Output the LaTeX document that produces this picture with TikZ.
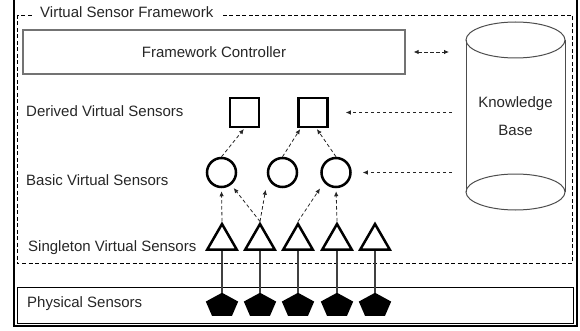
\documentclass[tikz,border=0pt]{standalone}
\usepackage{fontspec}
\setmainfont{Liberation Sans}
\usetikzlibrary{shapes.geometric,arrows.meta,calc}

\begin{document}
\begin{tikzpicture}[x=1pt,y=-1pt,
  txt/.style={font=\fontsize{15}{18}\selectfont, text=black!85, inner sep=0pt},
  layerlabel/.style={txt, anchor=base west},
  dvs/.style={draw, line width=2.5pt, fill=white, minimum size=29pt, inner sep=0pt},
  bvs/.style={circle, draw, line width=2.5pt, fill=white, minimum size=29pt, inner sep=0pt},
  svs/.style={regular polygon, regular polygon sides=3, draw, line width=2.5pt,
              fill=white, minimum size=34pt, inner sep=0pt},
  phys/.style={regular polygon, regular polygon sides=5, fill=black,
               minimum size=34pt, inner sep=0pt, outer sep=0pt, transform shape},
  conn/.style={draw=black!85, line width=0.8pt, dash pattern=on 3.5pt off 2.5pt,
               -{Latex[length=5pt,width=4.5pt]}},
  wire/.style={draw=black!75, line width=1.1pt},
  frameline/.style={draw=black, line width=0.9pt, dash pattern=on 4pt off 2.5pt},
]
\useasboundingbox (0,0) rectangle (580,331);

% outer border
\draw[line width=2pt] (14,0) -- (14,325.5) -- (577,325.5) -- (577,0);

% dashed framework boundary with its title
\draw[frameline] (17,15) rectangle (572,263.5);
\node[txt, fill=white, inner xsep=7pt, inner ysep=2pt, anchor=base west]
  (vsftitle) at (33,17.5) {Virtual Sensor Framework};

% physical sensor layer box
\node[draw, line width=0.8pt, minimum width=556pt, minimum height=36pt, inner sep=0pt,
      outer sep=0pt] (physbox) at (295,305) {};

% framework controller
\node[draw=black!55, line width=1.2pt, minimum width=382pt, minimum height=44pt,
      inner sep=0pt, txt] (fc) at (214,52) {Framework Controller};

% knowledge base (cylinder outline drawn from an invisible frame node)
\node[minimum width=99pt, minimum height=188pt, inner sep=0pt, outer sep=0pt,
      align=center, font=\fontsize{15}{28}\selectfont, text=black!85]
  (kb) at (515.5,116) {Knowledge\\Base};
\begin{scope}[draw=black!70, line width=1pt]
  \draw ($(kb.north)+(0,18)$) ellipse [x radius=49.5pt, y radius=18pt];
  \draw ($(kb.south)+(0,-18)$) ellipse [x radius=49.5pt, y radius=18pt];
  \draw ($(kb.north west)+(0,18)$) -- ($(kb.south west)+(0,-18)$);
  \draw ($(kb.north east)+(0,18)$) -- ($(kb.south east)+(0,-18)$);
\end{scope}

% layer labels
\node[layerlabel] (lderived)   at (26,116.5) {Derived Virtual Sensors};
\node[layerlabel] (lbasic)     at (26,185.5) {Basic Virtual Sensors};
\node[layerlabel] (lsingleton) at (28,251)   {Singleton Virtual Sensors};
\node[layerlabel] (lphysical)  at (27,307)   {Physical Sensors};

% derived virtual sensors
\node[dvs] (s1) at (244.5,112.5) {};
\node[dvs] (s2) at (313,112.5) {};

% basic virtual sensors
\node[bvs] (c1) at (221.5,172.5) {};
\node[bvs] (c2) at (282.5,172.5) {};
\node[bvs] (c3) at (336,172.5) {};

% singleton virtual sensors and physical sensors
\foreach \i/\x in {1/222,2/260,3/298,4/337,5/375} {
  \node[svs] (t\i) at (\x,241) {};
  \begin{scope}[shift={(\x,305.5)}, yscale=0.75]
    \node[phys] (p\i) at (0,0) {};
  \end{scope}
  \draw[wire] (t\i.south) -- (p\i.north);
}

% singleton -> basic
\draw[conn, shorten >=3pt] (t1.north) -- (c1.south);
\draw[conn, shorten >=4pt] (t2.north) -- (c1);
\draw[conn, shorten >=12pt] (t2.north) -- (c2.200);
\draw[conn, shorten >=7pt] (t3.north) -- (c3.220);
\draw[conn, shorten >=3pt] (t4.north) -- (c3.south);

% basic -> derived
\draw[conn, shorten >=1pt] (c1.north) -- (s1.south);
\draw[conn, shorten >=1pt] (c2.north) -- (s2.232);
\draw[conn, shorten >=1pt] (c3.north) -- (s2.-78);

% knowledge base -> sensors
\draw[conn, shorten <=14pt, shorten >=17pt] (kb.west |- s2.east) -- (s2.east);
\draw[conn, shorten <=14pt, shorten >=11pt] (kb.west |- c3.east) -- (c3.east);

% controller <-> knowledge base
\draw[conn, {Latex[length=5pt,width=4.5pt]}-{Latex[length=5pt,width=4.5pt]},
      shorten <=8pt, shorten >=17pt] (fc.east) -- (fc.east -| kb.west);
\end{tikzpicture}
\end{document}
